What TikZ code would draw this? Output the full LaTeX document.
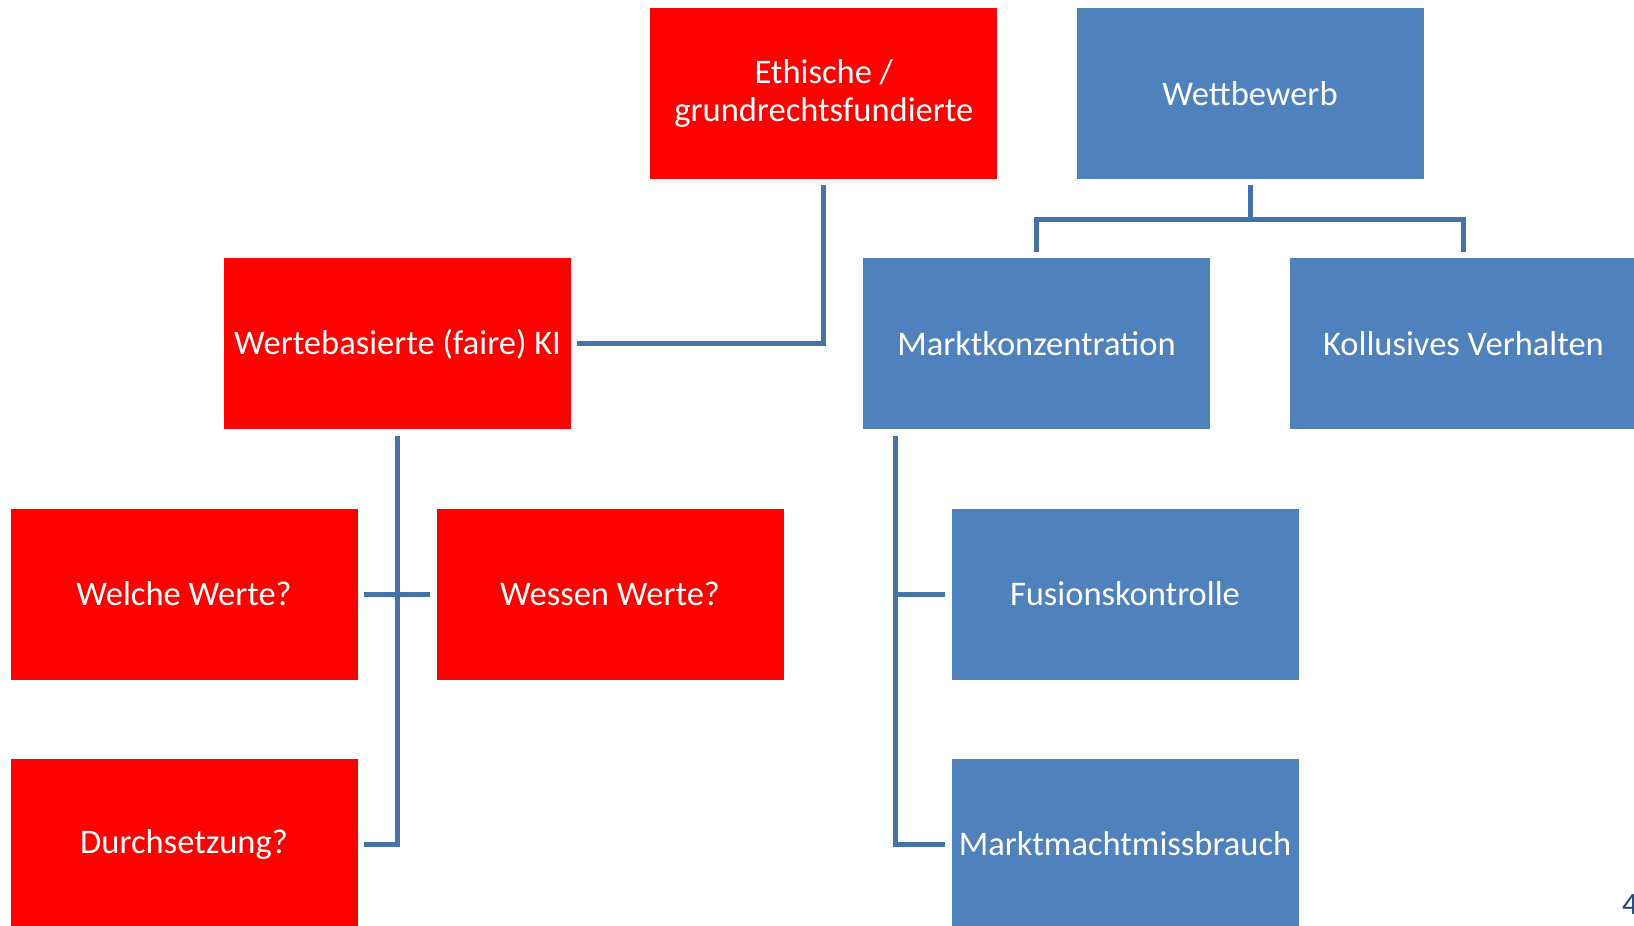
\documentclass[tikz,border=0pt]{standalone}
\usepackage{fontspec}
\setmainfont{Carlito}
\usetikzlibrary{positioning}
\definecolor{kiRed}{RGB}{255,0,0}
\definecolor{kiBlue}{RGB}{79,129,189}
\definecolor{lineBlue}{RGB}{69,114,167}
\definecolor{pageBlue}{RGB}{31,73,125}
\tikzset{
    box/.style={minimum width=347pt, minimum height=171pt, inner sep=0pt, text=white, align=center, font=\fontsize{34.5}{38}\selectfont},
    redbox/.style={box, fill=kiRed},
    bluebox/.style={box, fill=kiBlue},
    link/.style={draw=lineBlue, line width=5pt}
}

\begin{document}
\begin{tikzpicture}[x=1pt, y=-1pt]
    % Fix the page to the slide size
    \useasboundingbox (0,0) rectangle (1634,926);

    % Top row
    \node[redbox] (ethik) at (823.8,93.7) {Ethische /\\grundrechtsfundierte};
    \node[bluebox] (wett) at (1250,93.7) {Wettbewerb};

    % Second row
    \node[redbox] (werte) at (397.5,343.9) {Wertebasierte (faire) KI};
    \node[bluebox] (konz) at (1036.5,343.9) {Marktkonzentration};
    \node[bluebox] (koll) at (1463.5,343.9) {Kollusives Verhalten};

    % Third row
    \node[redbox] (welche) at (184,594) {Welche Werte?};
    \node[redbox] (wessen) at (610,594) {Wessen Werte?};
    \node[bluebox] (fusion) at (1125,594) {Fusionskontrolle};

    % Fourth row
    \node[redbox] (durch) at (184,844) {Durchsetzung?};
    \node[bluebox] (macht) at (1125,844) {Marktmachtmissbrauch};

    % Page number
    \node[anchor=base west, inner sep=0pt, font=\fontsize{31}{34}\selectfont, text=pageBlue] (page) at (1622,914) {4};

    % Connectors on the red side
    \draw[link] ([yshift=-6pt]ethik.south) |- ([xshift=6pt]werte.east);
    \draw[link] ([yshift=-6pt]werte.south) |- ([xshift=6pt]durch.east);
    \draw[link] ([xshift=6pt]welche.east) -- ([xshift=-6pt]wessen.west);

    % Connectors on the blue side
    \coordinate (bar) at ([yshift=-40pt]wett.south);
    \draw[link] ([yshift=-6pt]wett.south) -- (bar);
    \draw[link] ([yshift=6pt]konz.north) |- (bar) -| ([yshift=6pt]koll.north);
    \coordinate (trunk) at ([xshift=33pt,yshift=-6pt]konz.south west);
    \draw[link] (trunk) |- ([xshift=-6pt]macht.west);
    \draw[link] (trunk |- fusion.west) -- ([xshift=-6pt]fusion.west);
\end{tikzpicture}
\end{document}
